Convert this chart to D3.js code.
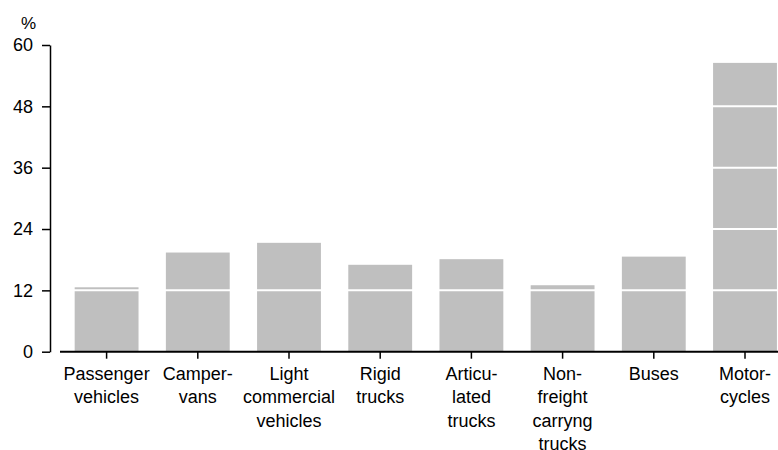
<!DOCTYPE html>
<html>
<head>
<meta charset="utf-8">
<script src="https://cdn.jsdelivr.net/npm/d3@7"></script>
<style>
  body { margin: 0; background: #fff; }
  svg { display: block; font-family: "Liberation Sans", Arial, sans-serif; }
</style>
</head>
<body>
<div id="chart"></div>
<script>
// categories (label lines) and values in %
const categories = [
  ["Passenger", "vehicles"],
  ["Camper-", "vans"],
  ["Light", "commercial", "vehicles"],
  ["Rigid", "trucks"],
  ["Articu-", "lated", "trucks"],
  ["Non-", "freight", "carryng", "trucks"],
  ["Buses"],
  ["Motor-", "cycles"]
]
const values = [12.6, 19.4, 21.3, 17.0, 18.1, 13.0, 18.6, 56.5]
const yTicks = [0, 12, 24, 36, 48, 60]

const width = 778, height = 450
const margin = ({top: 45, left: 50, bottom: 99})

const svg = d3.select("#chart")
  .append("svg")
  .attr("width", width)
  .attr("height", height)

const keys = categories.map((c, i) => i)

const x = d3.scaleBand()
  .domain(keys)
  .range([61, 61 + 8 * 91.2])
  .paddingInner(0.3)
  .paddingOuter(0.15)

const y = d3.scaleLinear()
  .domain([0, 60])
  .range([height - margin.bottom + 0.7, margin.top])

// bars
svg.append("g")
  .selectAll("rect")
  .data(values)
  .join("rect")
  .attr("x", (d, i) => x(i))
  .attr("width", x.bandwidth())
  .attr("y", d => y(d))
  .attr("height", d => y(0) - y(d))
  .attr("fill", "#bfbfbf")

// white gridlines over the bars
svg.append("g")
  .attr("stroke", "#fff")
  .attr("stroke-width", 2)
  .selectAll("line")
  .data(yTicks.filter(t => t > 0))
  .join("line")
  .attr("x1", 61)
  .attr("x2", width)
  .attr("y1", d => y(d))
  .attr("y2", d => y(d))

// y axis
const yAxis = svg.append("g")
  .attr("transform", `translate(${margin.left},0)`)
  .call(d3.axisLeft(y).tickValues(yTicks).tickSize(8).tickPadding(9).tickSizeOuter(0))
yAxis.attr("font-size", 18).attr("font-family", null)
yAxis.selectAll("text").attr("fill", "#000")
yAxis.selectAll("line, path").attr("stroke", "#000").attr("stroke-width", 1.5)

svg.append("text")
  .attr("x", 21)
  .attr("y", 29)
  .attr("font-size", 17)
  .text("%")

// x axis
const xAxis = svg.append("g")
  .attr("transform", `translate(0,${y(0)})`)
  .call(d3.axisBottom(x).tickSize(7).tickSizeOuter(0).tickFormat(""))
xAxis.select(".domain").remove()
xAxis.selectAll("line").attr("stroke", "#000").attr("stroke-width", 1.5)
xAxis.append("line")
  .attr("x1", 60)
  .attr("x2", width)
  .attr("stroke", "#000")
  .attr("stroke-width", 2)

svg.append("g")
  .attr("font-size", 18)
  .attr("text-anchor", "middle")
  .selectAll("text")
  .data(categories)
  .join("text")
  .attr("transform", (d, i) => `translate(${x(i) + x.bandwidth() / 2},${y(0) + 28})`)
  .selectAll("tspan")
  .data(d => d)
  .join("tspan")
  .attr("x", 0)
  .attr("y", (d, j) => j * 23.6)
  .text(d => d)
</script>
</body>
</html>
